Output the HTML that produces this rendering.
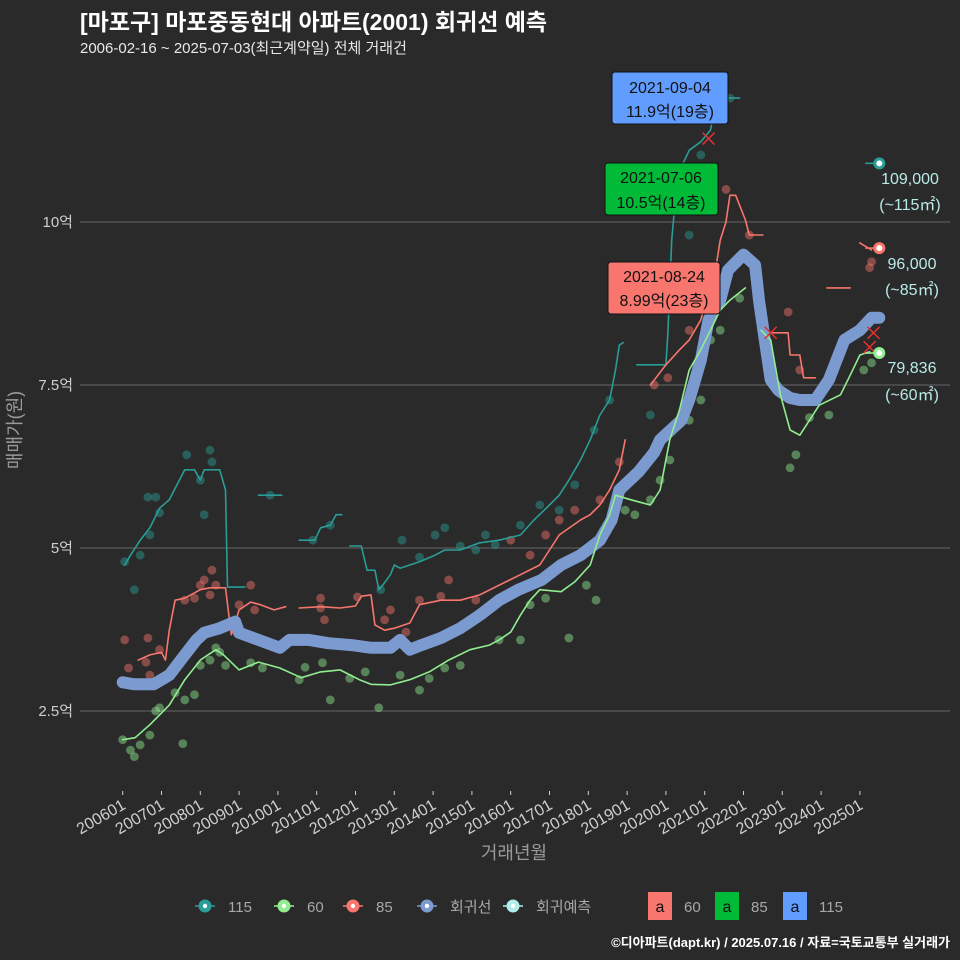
<!DOCTYPE html>
<html><head><meta charset="utf-8">
<style>
html,body{margin:0;padding:0;background:#2a2a2a;}
svg{display:block;font-family:"Liberation Sans","Noto Sans CJK KR",sans-serif;}
</style></head>
<body>
<svg id="chart" width="960" height="960" viewBox="0 0 960 960" xmlns="http://www.w3.org/2000/svg">
<rect width="960" height="960" fill="#2a2a2a"/>
<text x="80" y="30" fill="#ffffff" font-size="23" font-weight="bold">[마포구] 마포중동현대 아파트(2001) 회귀선 예측</text>
<text x="80" y="53" fill="#e8e8e8" font-size="15">2006-02-16 ~ 2025-07-03(최근계약일) 전체 거래건</text>
<g id="grid"></g>
<g id="yaxis"></g>
<g id="xaxis"></g>
<g id="points"></g>
<g id="lines"></g>
<g id="marks"></g>
<text transform="translate(21,430) rotate(-90)" text-anchor="middle" fill="#9a9a9a" font-size="18">매매가(원)</text>
<text x="514" y="859" text-anchor="middle" fill="#9a9a9a" font-size="18">거래년월</text>

<g>
<rect x="612" y="72" width="116" height="52" rx="3" fill="#619cff" stroke="#111"/>
<text x="670" y="93" text-anchor="middle" font-size="16" fill="#111">2021-09-04</text>
<text x="670" y="117" text-anchor="middle" font-size="16" fill="#111">11.9억(19층)</text>
</g>
<g>
<rect x="605" y="163" width="113" height="52" rx="3" fill="#00ba38" stroke="#111"/>
<text x="661" y="183" text-anchor="middle" font-size="16" fill="#111">2021-07-06</text>
<text x="661" y="208" text-anchor="middle" font-size="16" fill="#111">10.5억(14층)</text>
</g>
<g>
<rect x="608" y="262" width="112" height="52" rx="3" fill="#f8766d" stroke="#111"/>
<text x="664" y="282" text-anchor="middle" font-size="16" fill="#111">2021-08-24</text>
<text x="664" y="306" text-anchor="middle" font-size="16" fill="#111">8.99억(23층)</text>
</g>

<g font-size="16" fill="#b9ebe6" text-anchor="middle">
<text x="910" y="184">109,000</text>
<text x="910" y="210">(~115㎡)</text>
<text x="912" y="269">96,000</text>
<text x="912" y="295">(~85㎡)</text>
<text x="912" y="373">79,836</text>
<text x="912" y="400">(~60㎡)</text>
</g>

<g id="legend" font-size="15" fill="#a8a8a8"></g>
<text x="950" y="947" text-anchor="end" fill="#ffffff" font-size="13" font-weight="bold">©디아파트(dapt.kr) / 2025.07.16 / 자료=국토교통부 실거래가</text>
</svg>
<script>
const NS="http://www.w3.org/2000/svg";
// ---- data (decimal year, value in 억) ----
const yTicks=[2.5,5,7.5,10];
const yTickLabels=["2.5억","5억","7.5억","10억"];
const xTicks=[2006,2007,2008,2009,2010,2011,2012,2013,2014,2015,2016,2017,2018,2019,2020,2021,2022,2023,2024,2025];
const xTickLabels=["200601","200701","200801","200901","201001","201101","201201","201301","201401","201501","201601","201701","201801","201901","202001","202101","202201","202301","202401","202501"];

const regT=[2006.0,2006.3,2006.8,2007.2,2007.6,2007.9,2008.1,2008.5,2008.9,2009.0,2009.5,2010.05,2010.3,2010.8,2011.3,2011.9,2012.4,2012.9,2013.15,2013.4,2013.7,2014.2,2014.7,2015.2,2015.7,2016.2,2016.8,2017.3,2017.8,2018.3,2018.6,2018.8,2019.3,2019.7,2019.85,2020.4,2020.6,2020.9,2021.1,2021.4,2021.6,2022.0,2022.3,2022.4,2022.55,2022.7,2022.9,2023.2,2023.45,2023.85,2024.2,2024.6,2025.0,2025.3,2025.5];
const regV=[2.94,2.91,2.91,3.05,3.36,3.59,3.70,3.77,3.87,3.70,3.59,3.47,3.59,3.59,3.54,3.51,3.47,3.47,3.59,3.44,3.51,3.62,3.77,3.97,4.20,4.36,4.51,4.74,4.89,5.12,5.43,5.89,6.17,6.47,6.66,6.96,7.27,7.88,8.50,8.80,9.26,9.50,9.34,8.80,8.19,7.58,7.42,7.30,7.27,7.27,7.58,8.19,8.34,8.53,8.53];

const g60T=[2006.0,2006.32,2006.7,2007.2,2007.6,2008.0,2008.4,2008.6,2009.0,2009.5,2010.05,2010.6,2011.1,2011.6,2012.1,2012.4,2012.9,2013.4,2013.9,2014.4,2014.95,2015.45,2015.7,2016.0,2016.25,2016.5,2016.75,2017.3,2017.65,2018.05,2018.3,2018.55,2018.7,2019.1,2019.6,2019.85,2020.1,2020.35,2020.6,2020.9,2021.15,2021.4,2021.65,2022.05,NaN,2022.45,2022.7,2022.95,2023.2,2023.45,2023.7,2023.95,2024.5,2024.75,2025.0,2025.25];
const g60V=[2.06,2.09,2.29,2.59,2.98,3.28,3.44,3.36,3.13,3.25,3.16,3.01,3.10,3.13,2.98,2.91,2.90,2.98,3.10,3.28,3.44,3.51,3.59,3.71,3.97,4.20,4.36,4.33,4.48,4.74,5.20,5.51,5.81,5.74,5.66,5.89,6.66,7.12,7.73,8.04,8.34,8.65,8.80,8.99,NaN,8.34,8.19,7.35,6.81,6.73,6.96,7.19,7.35,7.65,7.96,8.01];

const g85T=[2006.4,2006.7,2007.0,2007.1,2007.2,2007.35,2007.6,2008.0,2008.25,2008.65,2008.75,2008.8,2009.0,2009.3,2009.55,2009.9,2010.2,NaN,2010.55,2011.1,2011.6,2012.0,2012.15,2012.4,2012.5,2012.75,2013.0,2013.4,2013.65,2014.2,2014.7,2015.2,2015.7,2016.25,2016.75,2017.25,2017.8,2018.05,2018.3,2018.55,2018.8,2018.95,NaN,2019.6,2020.0,2020.35,2020.6,2020.9,2021.15,2021.3,2021.4,2021.55,2021.65,2021.8,2022.05,2022.15,2022.5,NaN,2022.7,2023.15,2023.2,2023.45,2023.55,2023.85,NaN,2024.15,2024.75,NaN,2025.0,2025.3];
const g85V=[3.28,3.36,3.40,3.28,3.74,4.20,4.23,4.36,4.39,4.39,3.90,3.67,4.05,4.17,4.13,4.05,4.10,NaN,4.08,4.10,4.08,4.11,4.26,4.28,3.82,3.74,3.77,3.85,4.13,4.20,4.20,4.28,4.43,4.59,4.74,5.20,5.43,5.51,5.66,5.89,6.20,6.66,NaN,7.50,7.81,8.04,8.19,8.50,9.03,9.34,9.72,10.0,10.41,10.41,10.03,9.80,9.80,NaN,8.30,8.30,7.96,7.96,7.61,7.61,NaN,8.99,8.99,NaN,9.68,9.57];

const g115T=[2006.05,2006.2,2006.45,2006.7,2006.95,2007.2,2007.4,2007.6,2007.85,2008.0,2008.1,2008.5,2008.65,2008.7,2009.15,NaN,2009.5,2010.1,NaN,2010.55,2010.95,2011.1,2011.35,2011.5,2011.65,NaN,2011.85,2012.15,2012.3,2012.5,2012.6,2012.7,2012.9,2013.0,2013.15,2013.4,2013.65,2014.05,2014.3,2014.7,2015.2,2015.7,2016.25,2016.6,2017.0,2017.25,2017.5,2017.8,2018.05,2018.3,2018.55,2018.7,2018.8,2018.9,NaN,2019.25,2020.0,2020.05,2020.15,2020.3,2020.6,2020.9,2021.15,2021.25,2021.4,2021.9];
const g115V=[4.74,4.89,5.12,5.31,5.61,5.74,5.97,6.20,6.20,6.04,6.20,6.20,5.89,4.40,4.40,NaN,5.81,5.81,NaN,5.12,5.12,5.31,5.35,5.51,5.51,NaN,5.03,5.03,4.66,4.66,4.36,4.43,4.59,4.74,4.69,4.74,4.79,4.89,4.97,4.97,5.08,5.12,5.20,5.43,5.66,5.81,6.04,6.35,6.66,7.04,7.27,7.73,8.11,8.15,NaN,7.81,7.81,8.27,9.72,10.72,11.1,11.23,11.41,11.72,11.9,11.9];

const p60T=[2006.0,2006.2,2006.3,2006.45,2006.7,2006.85,2006.95,2007.35,2007.6,2007.85,2007.55,2008.0,2008.4,2008.5,2008.65,2008.25,2009.3,2009.6,2010.55,2010.7,2011.15,2011.35,2011.85,2012.25,2012.6,2013.15,2013.65,2013.9,2014.3,2014.7,2015.7,2016.25,2016.5,2016.9,2017.5,2017.95,2018.2,2018.95,2019.2,2019.6,2019.85,2020.1,2020.6,2020.9,2021.15,2021.4,2021.9,2023.2,2023.35,2023.7,2024.2,2025.1,2025.3];
const p60V=[2.06,1.9,1.8,1.98,2.13,2.5,2.55,2.78,2.67,2.75,2.0,3.2,3.47,3.4,3.2,3.28,3.24,3.16,2.98,3.17,3.24,2.67,3.0,3.1,2.55,3.05,2.82,3.0,3.16,3.2,3.59,3.59,4.13,4.23,3.62,4.43,4.2,5.58,5.51,5.74,6.04,6.35,6.96,7.27,8.19,8.34,8.83,6.23,6.43,7.0,7.04,7.73,7.84];

const p85T=[2006.05,2006.15,2006.6,2006.7,2006.65,2006.95,2008.0,2008.1,2008.25,2008.3,2008.4,2007.85,2007.6,2009.0,2009.3,2009.4,2011.1,2011.1,2011.2,2012.05,2012.75,2012.9,2013.3,2013.65,2014.2,2014.4,2015.1,2016.0,2016.5,2016.9,2017.25,2017.65,2018.3,2018.8,2019.7,2020.05,2020.6,2021.0,2021.4,2021.55,2022.15,2023.15,2023.45,2025.3,2025.25];
const p85V=[3.59,3.16,3.25,3.05,3.62,3.44,4.43,4.51,4.28,4.66,4.43,4.23,4.2,4.13,4.43,4.05,4.08,4.23,3.9,4.25,3.9,4.05,3.71,4.2,4.26,4.51,4.2,5.12,4.89,5.2,5.43,5.58,5.74,6.32,7.5,7.61,8.34,8.65,9.11,10.5,9.8,8.62,7.73,9.39,9.3];

const p115T=[2006.05,2006.3,2006.45,2006.65,2006.7,2006.85,2006.95,2007.65,2008.0,2008.1,2008.25,2008.3,2009.8,2010.9,2011.35,2012.65,2013.2,2013.65,2014.05,2014.3,2014.7,2015.1,2015.35,2015.6,2016.25,2016.75,2017.25,2017.65,2018.15,2018.55,2019.6,2020.15,2020.6,2020.9,2021.65];
const p115V=[4.79,4.36,4.89,5.78,5.2,5.78,5.54,6.43,6.04,5.51,6.5,6.32,5.81,5.12,5.35,4.36,5.12,4.86,5.2,5.31,5.03,4.97,5.2,5.05,5.35,5.66,5.58,5.97,6.81,7.27,7.04,9.26,9.8,11.03,11.9];

const crossT=[2021.1,2022.7,2025.35,2025.25];
const crossV=[11.28,8.30,8.30,8.08];

const endT=[2025.5,2025.5,2025.5];
const endV=[10.9,9.6,7.99];
const endColors=["#2a9d96","#f8766d","#90ee90"];

function sx(t){return 122.7+38.8*(t-2006);}
function sy(v){return 222+(10-v)*65.2;}
function mk(tag,attrs,parent){const e=document.createElementNS(NS,tag);for(const k in attrs)e.setAttribute(k,attrs[k]);parent.appendChild(e);return e;}

const grid=document.getElementById('grid'),yaxis=document.getElementById('yaxis'),xaxis=document.getElementById('xaxis');
yTicks.forEach((v,i)=>{
  const l=mk('line',{x1:80,x2:950,y1:sy(v),y2:sy(v),stroke:'#5a5a5a','stroke-width':1.2},grid);
  
  
  const t=mk('text',{x:73,y:sy(v)+5,'text-anchor':'end',fill:'#cfcfcf','font-size':15},yaxis);
  t.textContent=yTickLabels[i];
  
  
});
xTicks.forEach((t,i)=>{
  const x=sx(t);
  const tk=mk('line',{x1:x,x2:x,y1:791,y2:795,stroke:'#cfcfcf','stroke-width':1},xaxis);
  
  
  const lb=mk('text',{transform:`translate(${x+4},808) rotate(-30)`,'text-anchor':'end',fill:'#cfcfcf','font-size':16},xaxis);
  lb.textContent=xTickLabels[i];
  
  
});

const pts=document.getElementById('points');
function scatter(T,V,color,name){
  T.forEach((t,i)=>{
    const c=mk('circle',{cx:sx(t),cy:sy(V[i]),r:4.4,fill:color,'fill-opacity':0.45},pts);
    
    
  });
}
scatter(p115T,p115V,'#2a9d96','point-115');
scatter(p85T,p85V,'#f8766d','point-85');
scatter(p60T,p60V,'#90ee90','point-60');

const lines=document.getElementById('lines');
function pathOf(T,V){
  let d='',pen=false;
  T.forEach((t,i)=>{
    if(isNaN(t)||isNaN(V[i])){pen=false;return;}
    d+=(pen?'L':'M')+sx(t).toFixed(1)+','+sy(V[i]).toFixed(1);pen=true;
  });
  return d;
}
function line(T,V,color,w,name){
  const p=mk('path',{d:pathOf(T,V),fill:'none',stroke:color,'stroke-width':w,'stroke-linejoin':'round','stroke-linecap':'round'},lines);
  
  
}
line(g115T,g115V,'#2a9d96',1.6,'line-115');
line(g85T,g85V,'#f8766d',1.6,'line-85');
line(regT,regV,'#7b9bd0',12,'regression-line');
line(g60T,g60V,'#90ee90',1.6,'line-60');

const marks=document.getElementById('marks');
crossT.forEach((t,i)=>{
  const x=sx(t),y=sy(crossV[i]);
  const c=mk('path',{d:`M${x-6},${y-6}L${x+6},${y+6}M${x-6},${y+6}L${x+6},${y-6}`,stroke:'#e03030','stroke-width':1.5},marks);
  
  
});
endT.forEach((t,i)=>{
  const x=sx(t),y=sy(endV[i]);
  const s=mk('line',{x1:x-14,x2:x,y1:y,y2:y,stroke:endColors[i],'stroke-width':1.6},marks);
  
  
  const c=mk('circle',{cx:x,cy:y,r:6,fill:endColors[i]},marks);
  
  
  const w=mk('circle',{cx:x,cy:y,r:3,fill:'#ffffff'},marks);
  
  
});

const legend=document.getElementById('legend');
const legItems=[[205,'#2a9d96','115'],[284,'#90ee90','60'],[353,'#f8766d','85'],[427,'#7b9bd0','회귀선'],[513,'#b0efe9','회귀예측']];
legItems.forEach(it=>{
  const g=mk('g',{},legend);
  
  
  mk('line',{x1:it[0]-10,x2:it[0]+10,y1:906,y2:906,stroke:it[1],'stroke-width':1.5},g);
  mk('circle',{cx:it[0],cy:906,r:6.5,fill:it[1]},g);
  mk('circle',{cx:it[0],cy:906,r:2.2,fill:'#ffffff'},g);
  const t=mk('text',{x:it[0]+23,y:912},g);
  t.textContent=it[2];
});
const boxItems=[[648,'#f8766d','60'],[715,'#00ba38','85'],[783,'#619cff','115']];
boxItems.forEach(it=>{
  const g=mk('g',{},legend);
  
  
  mk('rect',{x:it[0],y:892,width:24,height:28,fill:it[1]},g);
  const a=mk('text',{x:it[0]+12,y:912,'text-anchor':'middle',fill:'#111','font-size':16},g);
  a.textContent='a';
  const t=mk('text',{x:it[0]+36,y:912},g);
  t.textContent=it[2];
});
</script>
</body></html>
